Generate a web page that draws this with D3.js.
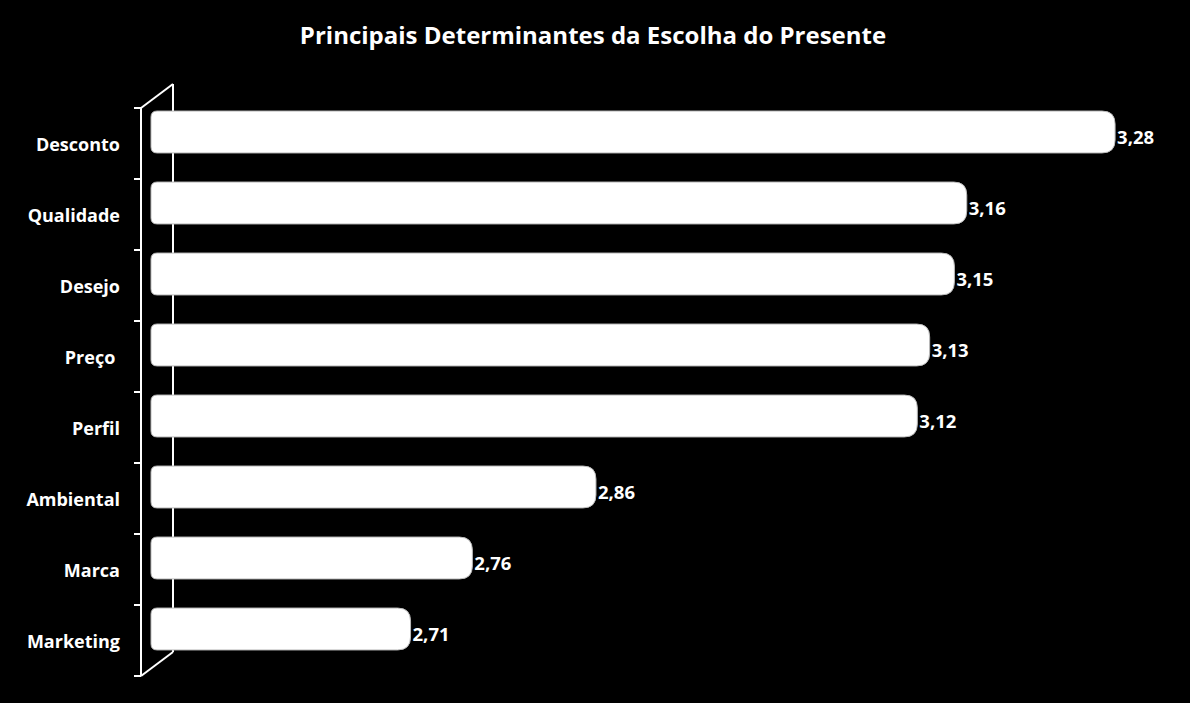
<!DOCTYPE html>
<html>
<head>
<meta charset="utf-8">
<script src="https://cdn.jsdelivr.net/npm/d3@7"></script>
<style>
	html, body { margin: 0; padding: 0; background: #000; }
	svg { display: block; }
	text { font-family: "Open Sans", sans-serif; font-weight: bold; fill: #fff; }
</style>
</head>
<body>
<svg id="chart" width="1190" height="703"></svg>
<script>
// data
const categories = ["Desconto", "Qualidade", "Desejo", "Preço ", "Perfil", "Ambiental", "Marca", "Marketing"];
const values     = [3.28, 3.16, 3.15, 3.13, 3.12, 2.86, 2.76, 2.71];
const valueLabels = ["3,28", "3,16", "3,15", "3,13", "3,12", "2,86", "2,76", "2,71"];
const title = "Principais Determinantes da Escolha do Presente";

const svg = d3.select("#chart");
const W = 1190, H = 703;

svg.append("rect").attr("width", W).attr("height", H).attr("fill", "#000");

// layout
const frontX = 141, backX = 173, depth = 24;
const axisTop = 108, axisBottom = 676;

const x = d3.scaleLinear().domain([2.5, 3.3]).range([151, 151 + 0.8 * 1236]);

// front band (ticks/labels) and bar band (between front and back walls)
const yFront = d3.scaleBand().domain(categories).range([axisTop, axisBottom]);
const yBar   = d3.scaleBand().domain(categories)
	.range([axisTop - depth / 2 + 0.5, axisBottom - depth / 2 + 0.5])
	.paddingInner(0.41).paddingOuter(0.205);

// title
svg.append("text")
	.attr("x", 593).attr("y", 44)
	.attr("text-anchor", "middle")
	.attr("font-size", 24)
	.text(title);

// axis wall
const wall = svg.append("g").attr("stroke", "#fff").attr("stroke-width", 2).attr("fill", "none");
wall.append("line").attr("x1", frontX).attr("y1", axisTop).attr("x2", frontX).attr("y2", axisBottom);
wall.append("line").attr("x1", backX).attr("y1", axisTop - depth).attr("x2", backX).attr("y2", axisBottom - depth);
wall.append("line").attr("x1", frontX).attr("y1", axisTop).attr("x2", backX).attr("y2", axisTop - depth);
wall.append("line").attr("x1", frontX).attr("y1", axisBottom).attr("x2", backX).attr("y2", axisBottom - depth);

const tickYs = categories.map(c => yFront(c)).concat([axisBottom]);
wall.selectAll(".tick").data(tickYs).join("line")
	.attr("x1", frontX - 7).attr("x2", frontX)
	.attr("y1", d => d).attr("y2", d => d);

// bars: small radius on the left, larger on the right
function barPath(x0, x1, y0, h) {
	const rl = 6, rr = 13;
	const p = d3.path();
	p.moveTo(x0 + rl, y0);
	p.lineTo(x1 - rr, y0);
	p.quadraticCurveTo(x1, y0, x1, y0 + rr);
	p.lineTo(x1, y0 + h - rr);
	p.quadraticCurveTo(x1, y0 + h, x1 - rr, y0 + h);
	p.lineTo(x0 + rl, y0 + h);
	p.quadraticCurveTo(x0, y0 + h, x0, y0 + h - rl);
	p.lineTo(x0, y0 + rl);
	p.quadraticCurveTo(x0, y0, x0 + rl, y0);
	p.closePath();
	return p.toString();
}

const rows = categories.map((c, i) => ({ cat: c, value: values[i], label: valueLabels[i] }));

svg.append("g").selectAll("path").data(rows).join("path")
	.attr("d", d => barPath(x(2.5), x(d.value), yBar(d.cat), yBar.bandwidth()))
	.attr("fill", "#fff")
	.attr("stroke", "#bbb")
	.attr("stroke-width", 1);

// value labels
svg.append("g").selectAll("text").data(rows).join("text")
	.attr("x", d => x(d.value) + 2)
	.attr("y", d => yBar(d.cat) + yBar.bandwidth() / 2 + 12)
	.attr("font-size", 18.5)
	.text(d => d.label);

// category labels
svg.append("g").selectAll("text").data(rows).join("text")
	.attr("x", 120)
	.attr("y", d => yFront(d.cat) + yFront.bandwidth() / 2 + 7)
	.attr("text-anchor", "end")
	.attr("font-size", 18)
	.style("white-space", "pre")
	.text(d => d.cat);
</script>
</body>
</html>
